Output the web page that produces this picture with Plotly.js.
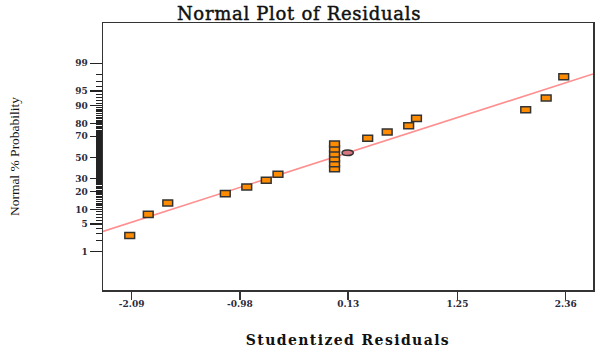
<!DOCTYPE html>
<html>
<head>
<meta charset="utf-8">
<script src="https://cdn.plot.ly/plotly-3.0.1.min.js"></script>
<style>
html,body{margin:0;padding:0;background:#fff;}
#chart{width:600px;height:361px;}
.g-xtitle text{letter-spacing:1.4px;}
.gtitle{letter-spacing:0.7px; stroke:#111; stroke-width:0.45px;}
</style>
</head>
<body>
<div id="chart"></div>
<script>
// ---- data ----
var residuals = [-2.11, -1.92, -1.72, -1.13, -0.91, -0.71, -0.59,
                 -0.01, -0.01, -0.01, -0.01, -0.01, -0.01,
                 0.33, 0.53, 0.75, 0.83, 1.95, 2.16, 2.34];
var probability = [2.7, 8.0, 13.1, 18.6, 23.3, 28.7, 33.9,
                   39.1, 43.8, 48.7, 53.5, 58.4, 63.0,
                   68.2, 73.6, 78.4, 83.3, 88.1, 92.9, 97.7];
var highlightX = [0.125];
var highlightP = [54.7];
var fitLineX = [-2.384, 2.640];
var fitLineP = [3.39, 98.04];
var xTickVals = [-2.09, -0.98, 0.13, 1.25, 2.36];
var xTickText = ["-2.09", "-0.98", "0.13", "1.25", "2.36"];
var yMajorPct = [1, 5, 10, 20, 30, 50, 70, 80, 90, 95, 99];

// inverse normal CDF (Acklam)
function probit(p){
  var a=[-3.969683028665376e+01,2.209460984245205e+02,-2.759285104469687e+02,1.383577518672690e+02,-3.066479806614716e+01,2.506628277459239e+00];
  var b=[-5.447609879822406e+01,1.615858368580409e+02,-1.556989798598866e+02,6.680131188771972e+01,-1.328068155288572e+01];
  var c=[-7.784894002430293e-03,-3.223964580411365e-01,-2.400758277161838e+00,-2.549732539343734e+00,4.374664141464968e+00,2.938163982698783e+00];
  var d=[7.784695709041462e-03,3.224671290700398e-01,2.445134137142996e+00,3.754408661907416e+00];
  var plow=0.02425, q, r;
  if(p<plow){q=Math.sqrt(-2*Math.log(p));
    return (((((c[0]*q+c[1])*q+c[2])*q+c[3])*q+c[4])*q+c[5])/((((d[0]*q+d[1])*q+d[2])*q+d[3])*q+1);}
  if(p<=1-plow){q=p-0.5;r=q*q;
    return (((((a[0]*r+a[1])*r+a[2])*r+a[3])*r+a[4])*r+a[5])*q/(((((b[0]*r+b[1])*r+b[2])*r+b[3])*r+b[4])*r+1);}
  q=Math.sqrt(-2*Math.log(1-p));
  return -(((((c[0]*q+c[1])*q+c[2])*q+c[3])*q+c[4])*q+c[5])/((((d[0]*q+d[1])*q+d[2])*q+d[3])*q+1);
}
function z(pct){return probit(pct/100);}

var yMinorPct = [];
for (var i=1;i<=99;i++){ if (yMajorPct.indexOf(i)<0) yMinorPct.push(i); }

var zPts = probability.map(z);
var halfW = 0.05, halfH = 0.075;

var shapes = [];
residuals.forEach(function(x,k){
  shapes.push({type:'rect', xref:'x', yref:'y', layer:'above',
    x0:x-halfW, x1:x+halfW, y0:zPts[k]-halfH, y1:zPts[k]+halfH,
    fillcolor:'#ff8c00', line:{color:'#333333', width:1.5}});
});
highlightX.forEach(function(x,k){
  var zz = z(highlightP[k]);
  shapes.push({type:'circle', xref:'x', yref:'y', layer:'above',
    x0:x-0.058, x1:x+0.058, y0:zz-0.07, y1:zz+0.07,
    fillcolor:'#d9757f', line:{color:'#333333', width:1.5}});
});

var traces = [
  {x: fitLineX, y: fitLineP.map(z), mode:'lines', type:'scatter',
   line:{color:'#ff8f8f', width:1.6}, hoverinfo:'skip'},
  {x: residuals, y: zPts, mode:'markers', type:'scatter',
   marker:{symbol:'square', size:8, color:'rgba(0,0,0,0)'}, hoverinfo:'x+y'}
];

var tickFont = {family:'DejaVu Serif', size:9, color:'#2a2a3a', weight:'bold'};

var layout = {
  width:600, height:361,
  margin:{l:103, r:7, t:23, b:71},
  paper_bgcolor:'#ffffff', plot_bgcolor:'#ffffff',
  showlegend:false,
  shapes: shapes,
  title:{text:'Normal Plot of Residuals', font:{family:'DejaVu Serif', size:18, color:'#111111'},
         xref:'paper', x:0.40, xanchor:'center', yref:'container', y:0.962, yanchor:'middle'},
  xaxis:{range:[-2.384, 2.640], tickmode:'array', tickvals:xTickVals, ticktext:xTickText,
         ticks:'outside', ticklen:8, tickwidth:1.5, tickcolor:'#333',
         showline:true, linecolor:'#333', linewidth:1.5, mirror:true,
         showgrid:false, zeroline:false, tickfont:tickFont, ticklabelstandoff:-3,
         title:{text:'Studentized Residuals', font:{family:'DejaVu Serif', size:14, color:'#111', weight:'bold'}, standoff:27}},
  yaxis:{range:[-3.272, 3.321], tickmode:'array', tickvals:yMajorPct.map(z), ticktext:yMajorPct.map(String),
         ticks:'outside', ticklen:12, tickwidth:1.5, tickcolor:'#222',
         minor:{tickmode:'array', tickvals:yMinorPct.map(z), ticks:'outside', ticklen:6, tickwidth:1.2, tickcolor:'#222', showgrid:false},
         showline:true, linecolor:'#333', linewidth:1.5, mirror:true,
         showgrid:false, zeroline:false, tickfont:tickFont,
         title:{text:'Normal % Probability', font:{family:'Liberation Serif', size:13.5, color:'#111'}, standoff:52}}
};

Plotly.newPlot('chart', traces, layout, {displayModeBar:false, staticPlot:true});
</script>
</body>
</html>
